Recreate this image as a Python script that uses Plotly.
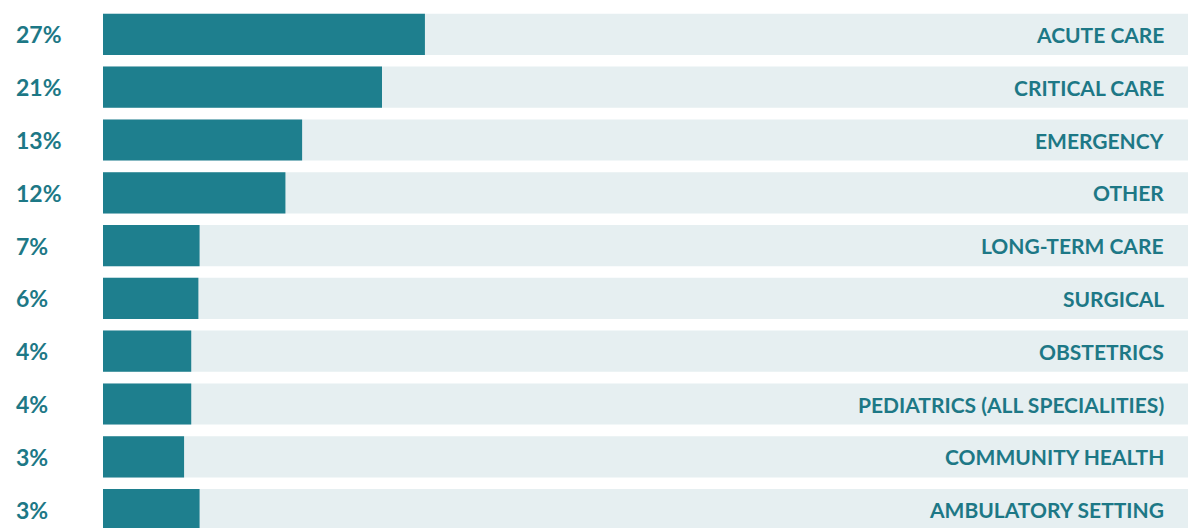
import plotly.graph_objects as go

categories = ['ACUTE CARE', 'CRITICAL CARE', 'EMERGENCY', 'OTHER', 'LONG-TERM CARE',
              'SURGICAL', 'OBSTETRICS', 'PEDIATRICS (ALL SPECIALITIES)',
              'COMMUNITY HEALTH', 'AMBULATORY SETTING']
pct_labels = ['27%', '21%', '13%', '12%', '7%', '6%', '4%', '4%', '3%', '3%']
# bar lengths as drawn in the picture (not strictly proportional to labels)
bar_lengths = [27, 23.4, 16.7, 15.3, 8.1, 8.0, 7.4, 7.4, 6.8, 8.1]
track_max = 91

bar_color = '#1e7f8e'
track_color = '#e6eff1'
text_color = '#1d7886'

fig = go.Figure()
fig.add_trace(go.Bar(
    y=categories, x=[track_max] * len(categories), orientation='h',
    marker=dict(color=track_color, line=dict(width=0)), hoverinfo='skip'
))
fig.add_trace(go.Bar(
    y=categories, x=bar_lengths, orientation='h',
    marker=dict(color=bar_color, line=dict(width=0)),
    customdata=pct_labels, hovertemplate='%{y}: %{customdata}<extra></extra>'
))

for cat, pct in zip(categories, pct_labels):
    fig.add_annotation(x=-0.082, xref='paper', y=cat, yref='y', text=pct,
                       showarrow=False, xanchor='left',
                       font=dict(family='Lato', size=23, color=text_color, weight='bold'))
    fig.add_annotation(x=0.98, xref='paper', y=cat, yref='y', text=cat,
                       showarrow=False, xanchor='right',
                       font=dict(family='Lato', size=21, color=text_color, weight='bold'))

fig.update_layout(
    barmode='overlay', bargap=0.22, showlegend=False,
    autosize=True,
    margin=dict(l=95, r=4, t=0, b=0),
    plot_bgcolor='white', paper_bgcolor='white',
    xaxis=dict(range=[0, track_max], visible=False),
    yaxis=dict(autorange='reversed', visible=False),
)

fig.write_html("out.html", config={'responsive': True}, default_height='100vh', default_width='100%')
